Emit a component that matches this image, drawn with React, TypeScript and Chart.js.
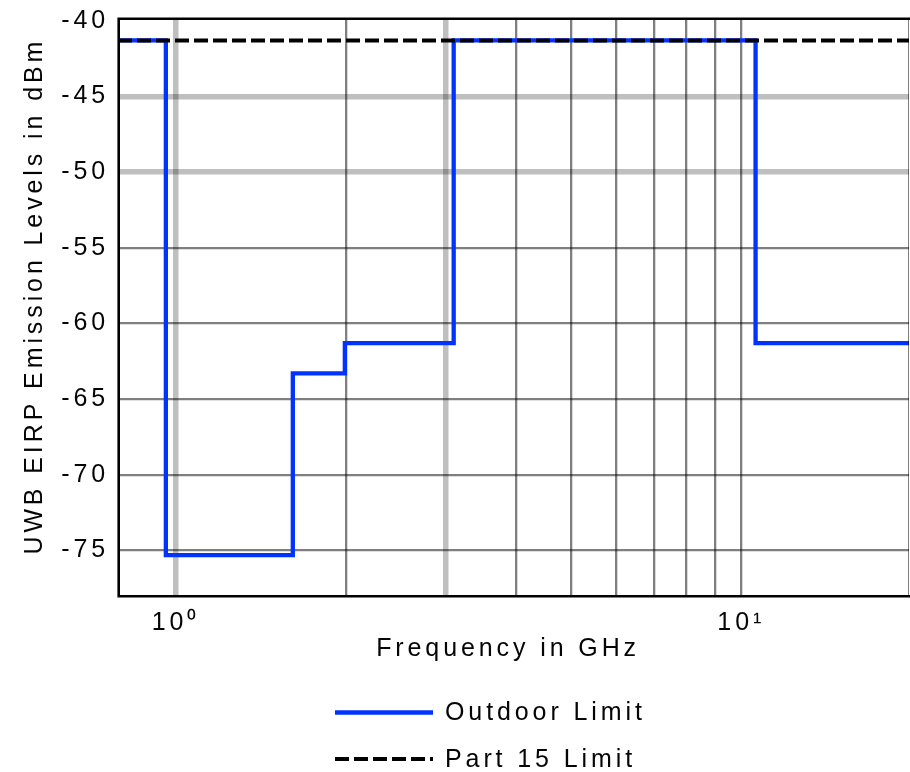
import React, { useEffect, useRef } from 'react';
import { Chart, registerables } from 'chart.js';

Chart.register(...registerables);

// ---- data ----
const outdoorFreqGHz = [0.79, 0.96, 0.96, 1.61, 1.61, 1.99, 1.99, 3.1, 3.1, 10.6, 10.6, 19.8];
const outdoorLevelDbm = [-41.3, -41.3, -75.3, -75.3, -63.3, -63.3, -61.3, -61.3, -41.3, -41.3, -61.3, -61.3];
const part15FreqGHz = [0.79, 19.8];
const part15LevelDbm = [-41.3, -41.3];
const seriesLabels = ['Outdoor Limit', 'Part 15 Limit'];

const xGridValues = [1, 2, 3, 4, 5, 6, 7, 8, 9, 10];
const xLightGrid = [1, 3];
const xTickLabels: Record<number, string> = { 1: '10\u2070', 10: '10\u00b9' };
const yTickValues = [-75, -70, -65, -60, -55, -50, -45, -40];
const yLightGrid = [-45, -50];
const yHiddenGrid = [-40];

// ---- styles ----
const TEXT = '#050505';
const FONT = { family: "'Liberation Sans', Arial, sans-serif", size: 25 };
const LETTER_SPACING = '3.9px';
const DARK_GRID = 'rgba(0,0,0,0.5)';
const LIGHT_GRID = 'rgba(0,0,0,0.25)';

const spacingPlugin = {
  id: 'letterSpacing',
  beforeLayout(chart: any) { chart.ctx.letterSpacing = LETTER_SPACING; },
  beforeDraw(chart: any) { chart.ctx.letterSpacing = LETTER_SPACING; },
};

const framePlugin = {
  id: 'frame',
  afterDatasetsDraw(chart: any) {
    const { ctx, chartArea: a } = chart;
    ctx.save();
    ctx.strokeStyle = DARK_GRID;
    ctx.lineWidth = 1;
    ctx.beginPath();
    ctx.moveTo(a.right - 0.5, a.top);
    ctx.lineTo(a.right - 0.5, a.bottom);
    ctx.stroke();
    ctx.strokeStyle = '#000';
    ctx.lineWidth = 2.6;
    ctx.lineCap = 'butt';
    ctx.lineJoin = 'miter';
    ctx.beginPath();
    ctx.moveTo(a.right + 2, a.top + 0.7);
    ctx.lineTo(a.left + 0.7, a.top + 0.7);
    ctx.lineTo(a.left + 0.7, a.bottom + 0.3);
    ctx.lineTo(a.right + 2, a.bottom + 0.3);
    ctx.stroke();
    ctx.restore();
  },
};

const legendPlugin = {
  id: 'stackedLegend',
  afterDraw(chart: any) {
    const { ctx } = chart;
    const rowsY = [712.5, 759];
    const x0 = 335;
    const x1 = 433;
    const textX = 445;
    chart.data.datasets.forEach((ds: any, i: number) => {
      const y = rowsY[i];
      ctx.save();
      ctx.strokeStyle = ds.borderColor;
      ctx.lineWidth = ds.borderWidth;
      ctx.setLineDash(ds.borderDash || []);
      ctx.lineCap = 'butt';
      ctx.beginPath();
      ctx.moveTo(x0, y);
      ctx.lineTo(x1, y);
      ctx.stroke();
      ctx.setLineDash([]);
      ctx.fillStyle = TEXT;
      ctx.font = `${FONT.size}px ${FONT.family}`;
      ctx.textAlign = 'left';
      ctx.textBaseline = 'middle';
      ctx.fillText(ds.label, textX, y + 1);
      ctx.restore();
    });
  },
};

export default function App() {
  const ref = useRef<HTMLCanvasElement>(null);

  useEffect(() => {
    const canvas = ref.current;
    if (!canvas) return;
    const chart = new Chart(canvas, {
      type: 'line',
      data: {
        datasets: [
          {
            label: seriesLabels[0],
            data: outdoorFreqGHz.map((f, i) => ({ x: f, y: outdoorLevelDbm[i] })),
            borderColor: '#0033ff',
            borderWidth: 4.3,
            pointRadius: 0,
            tension: 0,
            fill: false,
            borderJoinStyle: 'miter',
            borderCapStyle: 'butt',
            order: 1,
          },
          {
            label: seriesLabels[1],
            data: part15FreqGHz.map((f, i) => ({ x: f, y: part15LevelDbm[i] })),
            borderColor: '#000000',
            borderWidth: 4,
            borderDash: [14, 5],
            pointRadius: 0,
            tension: 0,
            fill: false,
            order: 0,
          },
        ],
      } as any,
      options: {
        responsive: false,
        animation: false,
        events: [],
        layout: { padding: { top: 18, left: 0, right: 1, bottom: 96 } },
        plugins: {
          legend: { display: false },
          tooltip: { enabled: false },
        },
        scales: {
          x: {
            type: 'logarithmic',
            min: 0.79,
            max: 19.8,
            afterBuildTicks: (s: any) => {
              s.ticks = xGridValues.map((v) => ({ value: v }));
            },
            afterFit: (s: any) => {
              s.height = 80;
              s.paddingLeft = 0;
              s.paddingRight = 0;
            },
            border: { display: false },
            grid: {
              drawTicks: false,
              color: (c: any) => (xLightGrid.includes(c.tick?.value) ? LIGHT_GRID : DARK_GRID),
              lineWidth: (c: any) => (xLightGrid.includes(c.tick?.value) ? 5.5 : 2.3),
            },
            ticks: {
              autoSkip: false,
              maxRotation: 0,
              minRotation: 0,
              padding: 12.5,
              color: TEXT,
              font: FONT,
              callback: (v: any) => xTickLabels[Number(v)] ?? '',
            },
            title: {
              display: true,
              text: 'Frequency in GHz\u00a0',
              color: TEXT,
              font: FONT,
              padding: { top: 0, bottom: 12 },
            },
          },
          y: {
            type: 'linear',
            min: -78,
            max: -39.82,
            afterBuildTicks: (s: any) => {
              s.ticks = yTickValues.map((v) => ({ value: v }));
            },
            afterFit: (s: any) => {
              s.width = 118;
              s.paddingTop = 0;
              s.paddingBottom = 0;
            },
            border: { display: false },
            grid: {
              drawTicks: false,
              color: (c: any) => {
                const v = c.tick?.value;
                if (yHiddenGrid.includes(v)) return 'rgba(0,0,0,0)';
                return yLightGrid.includes(v) ? LIGHT_GRID : DARK_GRID;
              },
              lineWidth: (c: any) => (yLightGrid.includes(c.tick?.value) ? 5.5 : 2.3),
            },
            ticks: {
              autoSkip: false,
              padding: 9,
              color: TEXT,
              font: FONT,
              callback: (v: any) => String(v),
            },
            title: {
              display: true,
              text: '\u00a0\u00a0UWB EIRP Emission Levels in dBm',
              color: TEXT,
              font: FONT,
              padding: { top: 20, bottom: 0 },
            },
          },
        },
      } as any,
      plugins: [spacingPlugin, framePlugin, legendPlugin],
    });
    return () => chart.destroy();
  }, []);

  return (
    <div style={{ position: 'absolute', left: 0, top: 0, width: 910, height: 772, background: '#fff' }}>
      <canvas ref={ref} width={910} height={772} style={{ display: 'block' }} />
    </div>
  );
}
